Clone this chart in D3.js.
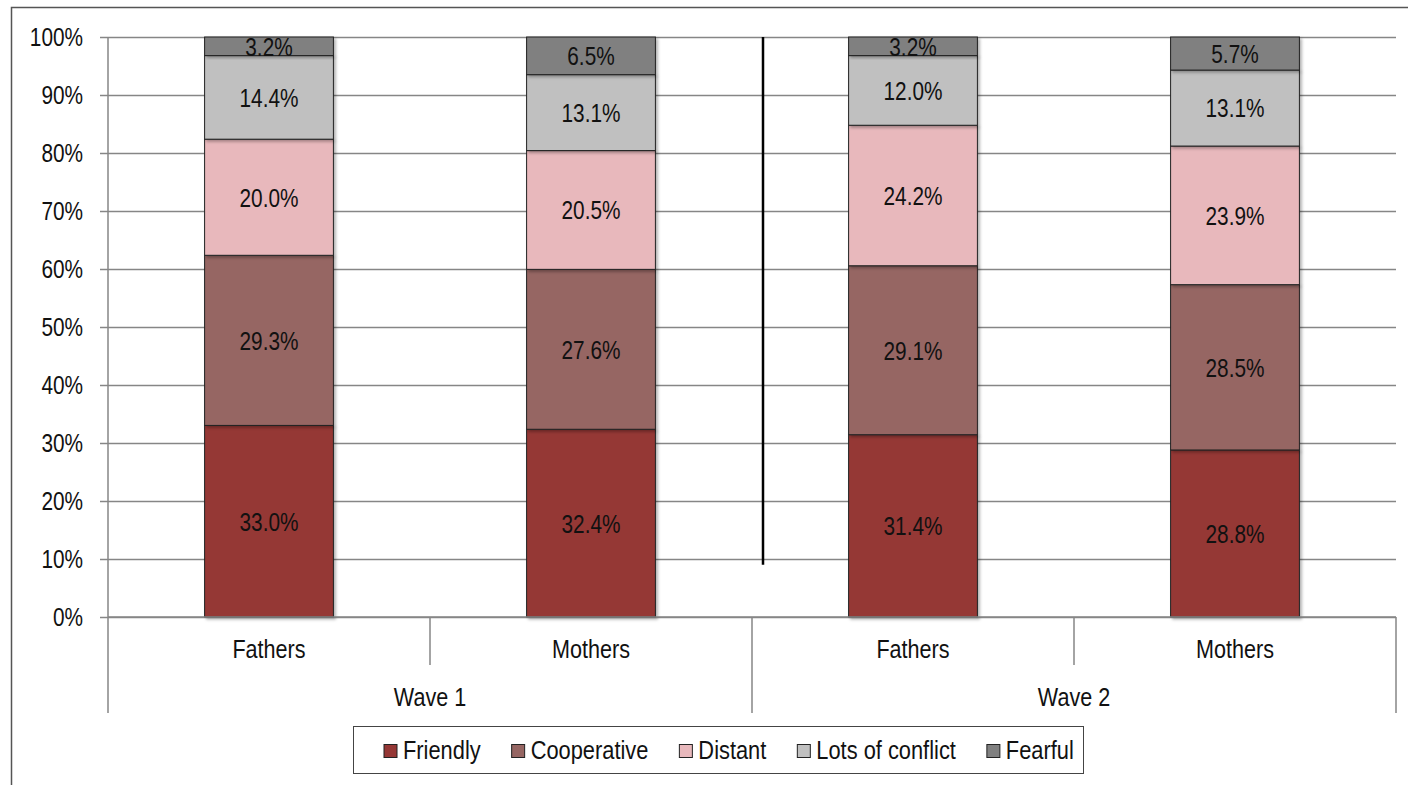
<!DOCTYPE html>
<html>
<head>
<meta charset="utf-8">
<script src="https://cdn.jsdelivr.net/npm/d3@7"></script>
<style>
  body { margin: 0; background: #fff; }
  text { font-family: "Liberation Sans Narrow", "Liberation Sans", Arial, sans-serif; fill: #111; font-size: 26px; }
</style>
</head>
<body>
<script>
// data
var groups = ["Fathers", "Mothers", "Fathers", "Mothers"];
var waves = ["Wave 1", "Wave 2"];
var series = ["Friendly", "Cooperative", "Distant", "Lots of conflict", "Fearful"];
var friendly    = [33.0, 32.4, 31.4, 28.8];
var cooperative = [29.3, 27.6, 29.1, 28.5];
var distant     = [20.0, 20.5, 24.2, 23.9];
var conflict    = [14.4, 13.1, 12.0, 13.1];
var fearful     = [3.2, 6.5, 3.2, 5.7];
var yTicks = [0, 0.1, 0.2, 0.3, 0.4, 0.5, 0.6, 0.7, 0.8, 0.9, 1];

var colors = ["#953735", "#966663", "#e8b8bc", "#c0c0c0", "#808080"];

var W = 1408, H = 785;
var pLeft = 108, pRight = 1396, pTop = 37, pBottom = 617;
var squeeze = 0.8; // mimic the narrow font of the original

var svg = d3.select("body").append("svg")
    .attr("width", W)
    .attr("height", H);

// narrow text helper
function addText(parent, x, y, str, anchor, sq) {
    return parent.append("text")
        .attr("transform", "translate(" + x + "," + y + ") scale(" + (sq || squeeze) + ",1)")
        .attr("text-anchor", anchor || "middle")
        .attr("dy", "0.36em")
        .text(str);
}

// outer frame
svg.append("rect")
    .attr("x", 11.5).attr("y", 7.5)
    .attr("width", 1500).attr("height", 900)
    .attr("fill", "none").attr("stroke", "#555").attr("stroke-width", 1.5);

var defs = svg.append("defs");
var f = defs.append("filter").attr("id", "shadow")
    .attr("x", "-10%").attr("y", "-10%").attr("width", "130%").attr("height", "130%");
f.append("feDropShadow").attr("dx", 2).attr("dy", 2).attr("stdDeviation", 1.5)
    .attr("flood-color", "#000").attr("flood-opacity", 0.3);
defs.append("clipPath").attr("id", "plotclip")
    .append("rect").attr("x", pLeft).attr("y", pTop).attr("width", pRight - pLeft).attr("height", pBottom - pTop);

var rows = groups.map(function(g, i) {
    return {
        key: i, group: g,
        "Friendly": friendly[i], "Cooperative": cooperative[i], "Distant": distant[i],
        "Lots of conflict": conflict[i], "Fearful": fearful[i]
    };
});

var x = d3.scaleBand().domain(d3.range(groups.length)).range([pLeft, pRight]).padding(0);
var xWave = d3.scaleBand().domain(waves).range([pLeft, pRight]).padding(0);
var y = d3.scaleLinear().domain([0, 1]).range([pBottom, pTop]);
var barW = x.bandwidth() * 0.4;

// gridlines + y axis
var yAxis = d3.axisLeft(y).tickValues(yTicks).tickFormat("")
    .tickSize(-(pRight - pLeft));
var gy = svg.append("g").attr("transform", "translate(" + pLeft + ",0)").call(yAxis);
gy.select(".domain").remove();
gy.selectAll(".tick line").attr("stroke", "#868686").attr("stroke-width", 1.5).attr("x1", -8);
gy.selectAll(".tick text").remove();
yTicks.forEach(function(t) {
    addText(svg, 83, y(t), d3.format(".0%")(t), "end");
});
svg.append("line")
    .attr("x1", pLeft).attr("x2", pLeft).attr("y1", pTop).attr("y2", pBottom)
    .attr("stroke", "#868686").attr("stroke-width", 1.5);

// stacked bars
var stack = d3.stack().keys(series).offset(d3.stackOffsetExpand);
var stacked = stack(rows);

var layers = svg.append("g").selectAll("g")
    .data(stacked)
    .enter().append("g")
    .attr("fill", function(d, i) { return colors[i]; });

layers.selectAll("rect")
    .data(function(d) { return d; })
    .enter().append("rect")
    .attr("x", function(d) { return x(d.data.key) + (x.bandwidth() - barW) / 2; })
    .attr("y", function(d) { return y(d[1]); })
    .attr("width", barW)
    .attr("height", function(d) { return y(d[0]) - y(d[1]); })
    .attr("stroke", "#222")
    .attr("stroke-width", 1)
    .attr("filter", "url(#shadow)");

// segment labels
var labels = svg.append("g").attr("clip-path", "url(#plotclip)");
stacked.forEach(function(layer) {
    layer.forEach(function(d) {
        addText(labels, x(d.data.key) + x.bandwidth() / 2, (y(d[0]) + y(d[1])) / 2,
            d.data[layer.key].toFixed(1) + "%");
    });
});

// wave divider
svg.append("line")
    .attr("x1", 763).attr("x2", 763).attr("y1", pTop).attr("y2", y(0.09))
    .attr("stroke", "#000").attr("stroke-width", 2.5);

// category axis (two levels)
var axisG = svg.append("g");
axisG.append("line")
    .attr("x1", pLeft).attr("x2", pRight).attr("y1", pBottom).attr("y2", pBottom)
    .attr("stroke", "#868686").attr("stroke-width", 1.5);
d3.range(groups.length + 1).forEach(function(i) {
    var xx = i < groups.length ? x(i) : pRight;
    var outer = i % 2 === 0;
    axisG.append("line")
        .attr("x1", xx).attr("x2", xx)
        .attr("y1", pBottom).attr("y2", outer ? 713 : 665)
        .attr("stroke", "#868686").attr("stroke-width", 1.5);
});
groups.forEach(function(g, i) {
    addText(axisG, x(i) + x.bandwidth() / 2, 649, g, "middle", 0.83);
});
waves.forEach(function(w) {
    addText(axisG, xWave(w) + xWave.bandwidth() / 2, 697, w, "middle", 0.83);
});

// legend
var legend = svg.append("g");
legend.append("rect")
    .attr("x", 353.5).attr("y", 726.5).attr("width", 730).attr("height", 47)
    .attr("fill", "#fff").attr("stroke", "#444").attr("stroke-width", 1);
var lx = 384;
var lsq = 0.84;
series.forEach(function(s, i) {
    legend.append("rect")
        .attr("x", lx).attr("y", 744.5).attr("width", 13).attr("height", 13)
        .attr("fill", colors[i]).attr("stroke", "#222").attr("stroke-width", 1);
    var t = addText(legend, lx + 19, 750, s, "start", lsq);
    lx += 19 + t.node().getComputedTextLength() * lsq + 31;
});
</script>
</body>
</html>
